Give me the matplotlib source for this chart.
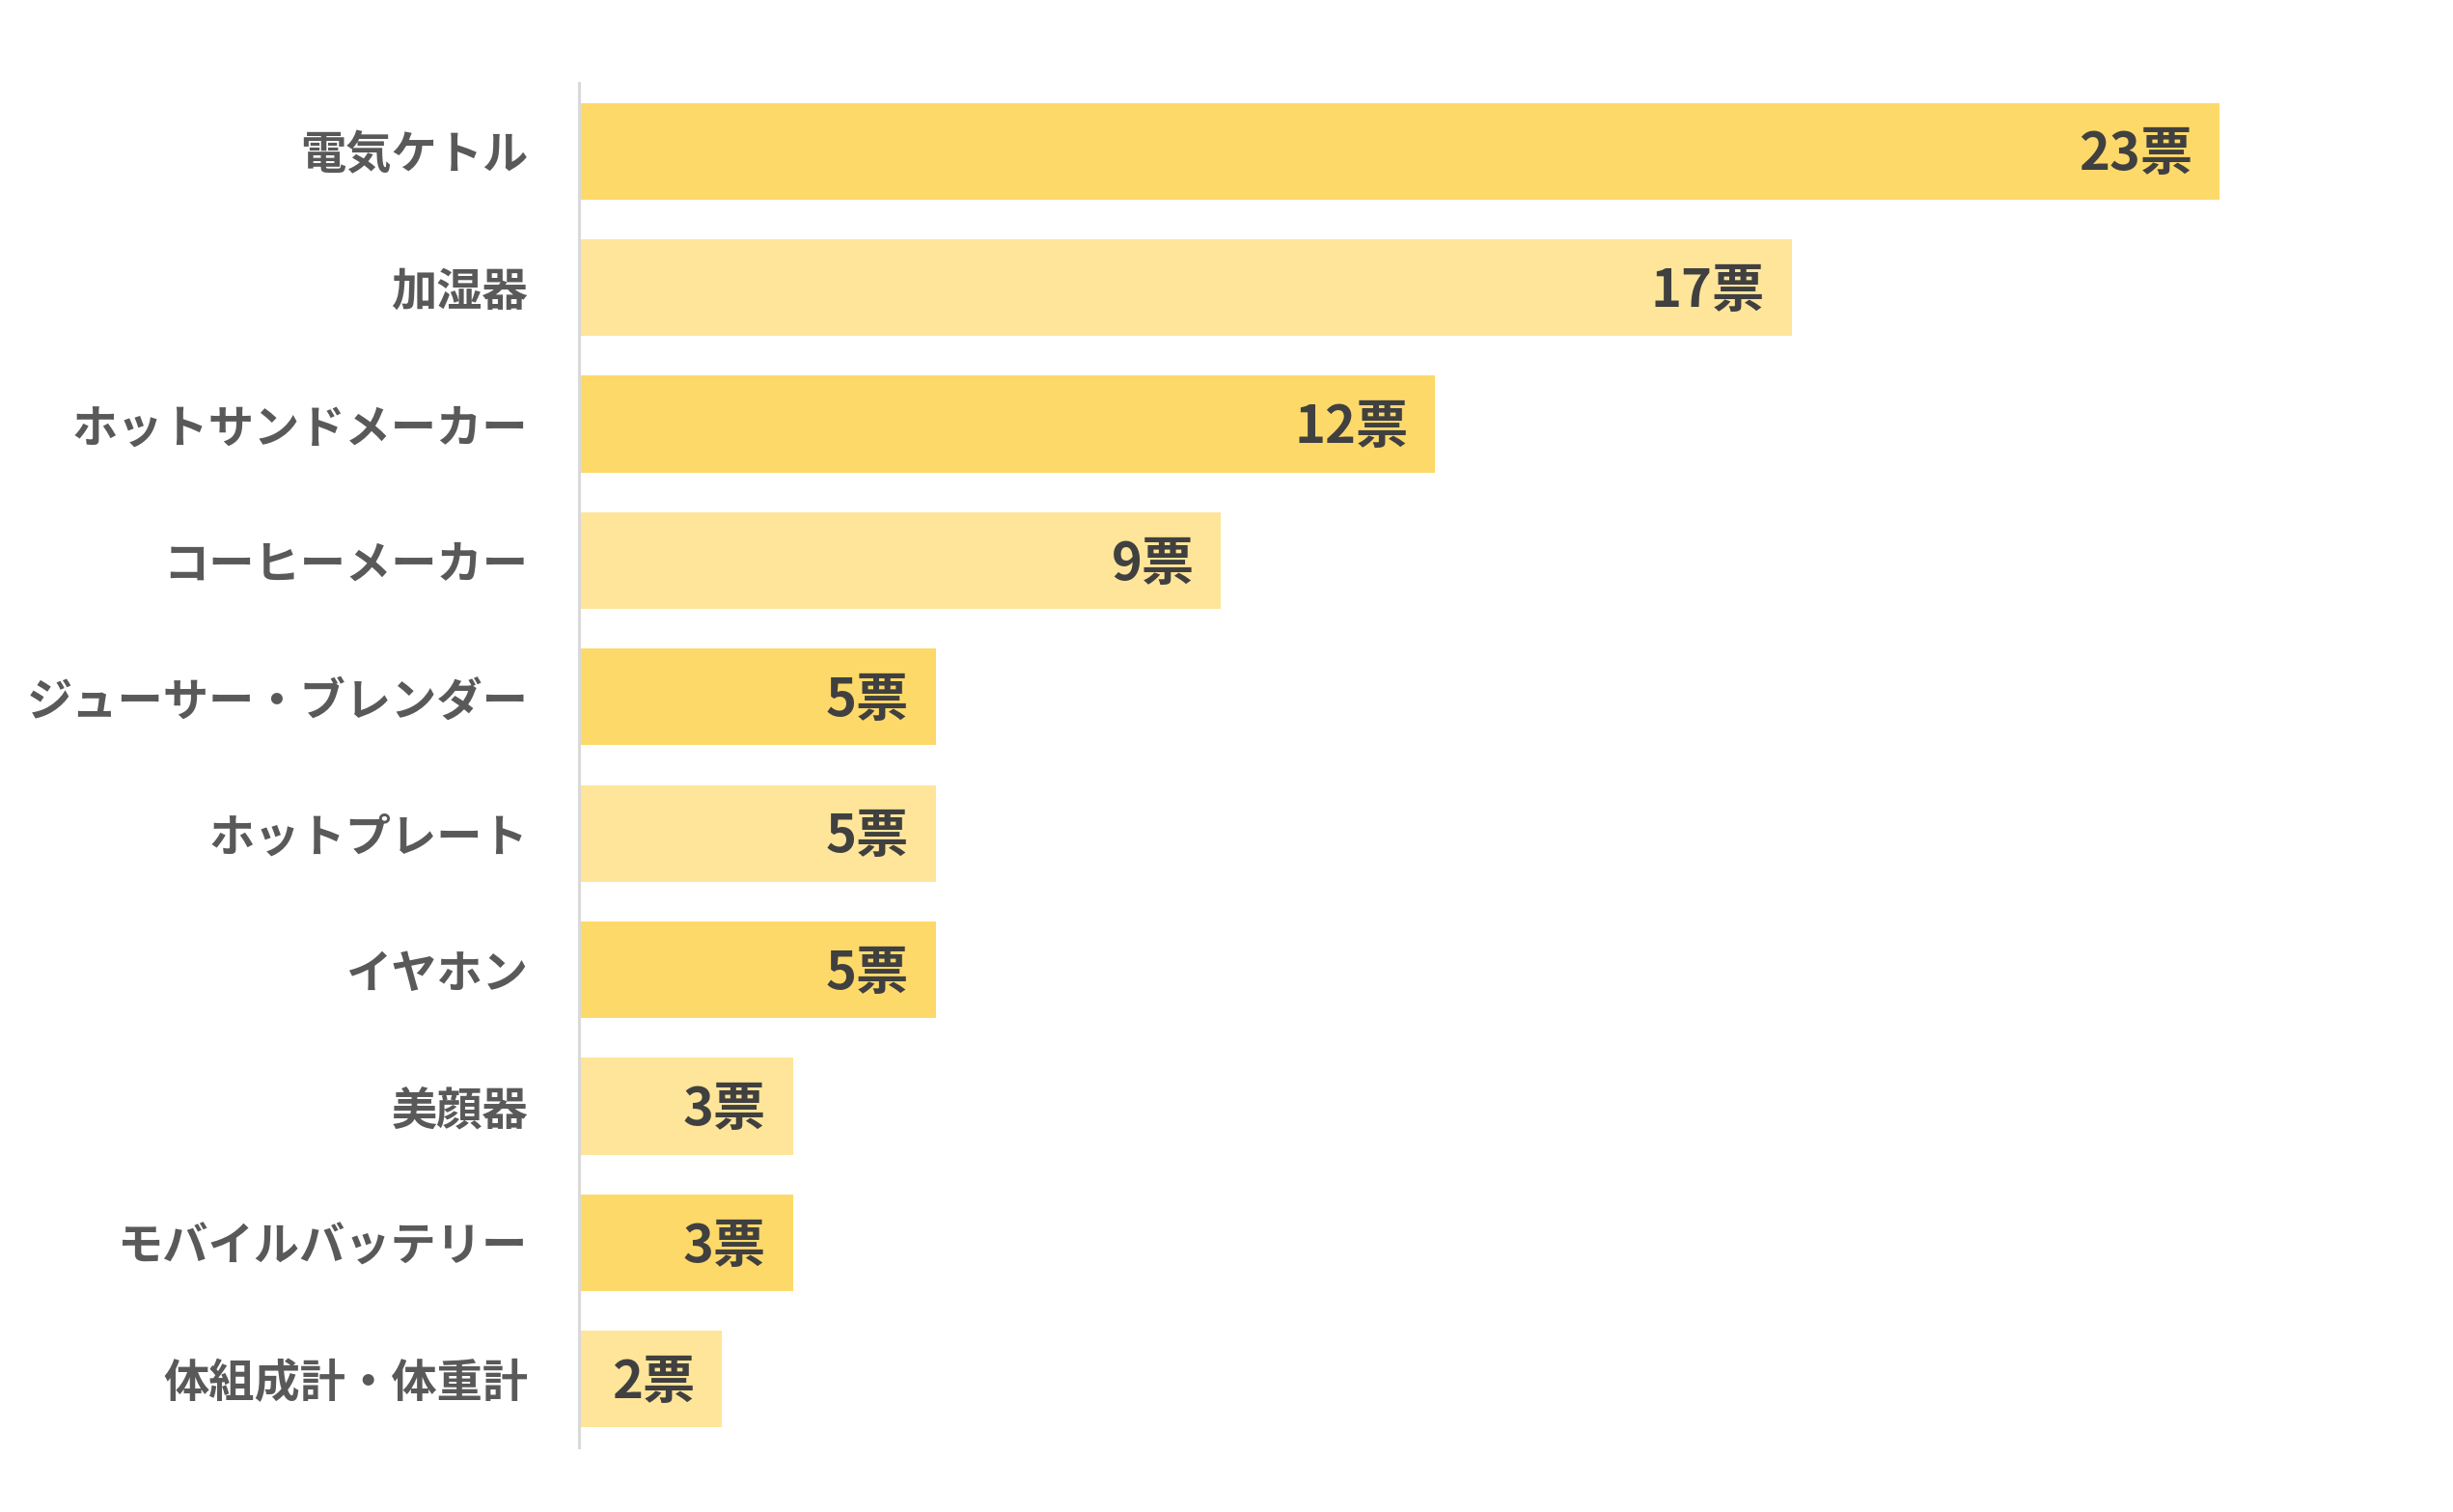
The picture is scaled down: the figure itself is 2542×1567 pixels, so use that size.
import matplotlib as mpl
mpl.use('Agg')
import matplotlib.pyplot as plt

plt.rcParams['font.family'] = ['Noto Sans CJK JP', 'DejaVu Sans']

# Data (top to bottom)
categories = ['電気ケトル', '加湿器', 'ホットサンドメーカー', 'コーヒーメーカー',
              'ジューサー・ブレンダー', 'ホットプレート', 'イヤホン', '美顔器',
              'モバイルバッテリー', '体組成計・体重計']
votes = [23, 17, 12, 9, 5, 5, 5, 3, 3, 2]
value_labels = [f'{v}票' for v in votes]

dark = '#FDD96A'
light = '#FEE599'
colors = [dark if i % 2 == 0 else light for i in range(len(votes))]

fig = plt.figure(figsize=(25.42, 15.67), dpi=100)
ax = fig.add_axes([600 / 2542, 1 - 1500 / 1567, 0.727, (1500 - 86) / 1567])

ypos = list(range(len(votes)))
bars = ax.barh(ypos, votes, height=0.71, color=colors, left=0)

ax.set_ylim(len(votes) - 0.5, -0.5)
ax.set_xlim(0, 25)

# value labels inside bar ends
for y, v, lab in zip(ypos, votes, value_labels):
    ax.annotate(lab, (v, y), xytext=(-20, -3), textcoords='offset points',
                ha='right', va='center', fontsize=39, fontweight='bold',
                color='#404040')

ax.set_yticks(ypos)
ax.set_yticklabels(categories, fontsize=34, fontweight='bold', color='#595959')
ax.tick_params(axis='y', length=0, pad=38)
ax.set_xticks([])

for s in ['top', 'right', 'bottom']:
    ax.spines[s].set_visible(False)
ax.spines['left'].set_color('#D9D9D9')
ax.spines['left'].set_linewidth(2.2)

plt.savefig('out.png', dpi=100)
